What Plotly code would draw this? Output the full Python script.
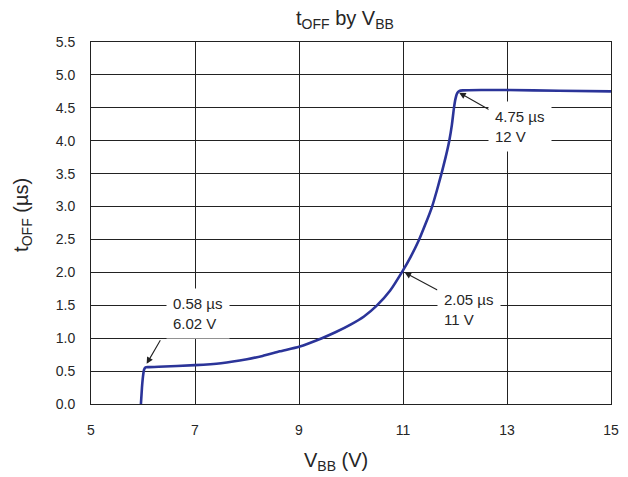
import plotly.graph_objects as go

# Data
vbb = [5.96, 5.98, 6.00, 6.02, 6.05, 6.10, 6.30, 7.0, 7.5, 8.0, 8.3, 8.63, 9.0, 9.44, 9.7,
       10.0, 10.25, 10.49, 10.75, 11.0, 11.15, 11.3, 11.43, 11.56, 11.65, 11.74,
       11.82, 11.89, 11.94, 11.98, 12.01, 12.04, 12.08, 12.15,
       12.5, 13.0, 14.0, 15.0]
toff = [0.0, 0.25, 0.42, 0.52, 0.555, 0.56, 0.565, 0.59, 0.62, 0.68, 0.73, 0.80, 0.87, 1.0, 1.09,
        1.21, 1.33, 1.49, 1.72, 2.03, 2.24, 2.48, 2.73, 3.0, 3.24, 3.5,
        3.75, 4.0, 4.24, 4.5, 4.64, 4.72, 4.755, 4.765,
        4.77, 4.77, 4.76, 4.75]

x_ticks = [5, 7, 9, 11, 13, 15]
y_ticks = [0.0, 0.5, 1.0, 1.5, 2.0, 2.5, 3.0, 3.5, 4.0, 4.5, 5.0, 5.5]
y_tick_labels = [f"{v:.1f}" for v in y_ticks]

# callouts: arrow head (point) and tail positions, label centres and texts
callout_px = [6.07, 11.03, 12.08]
callout_py = [0.61, 2.0, 4.73]
callout_tx = [6.35, 11.69, 12.73]
callout_ty = [0.99, 1.72, 4.44]
label_x = [7.06, 12.27, 13.25]
label_y = [1.37, 1.43, 4.22]
label_text = ["0.58 µs<br>6.02 V", "2.05 µs<br>11 V", "4.75 µs<br>12 V"]

FONT = "Liberation Sans, Arial, sans-serif"
TXT = "#262626"

fig = go.Figure()
fig.add_trace(go.Scatter(x=vbb, y=toff, mode="lines",
                         line=dict(color="#2B3499", width=2.6, shape="spline", smoothing=0.5),
                         showlegend=False, hoverinfo="skip"))

for px, py, tx, ty in zip(callout_px, callout_py, callout_tx, callout_ty):
    fig.add_annotation(x=px, y=py, ax=tx, ay=ty, axref="x", ayref="y", xref="x", yref="y",
                       text="", showarrow=True, arrowhead=2, arrowsize=1.2, arrowwidth=1.1,
                       arrowcolor="#222222")
for lx, ly, t in zip(label_x, label_y, label_text):
    fig.add_annotation(x=lx, y=ly, xref="x", yref="y", text=t, showarrow=False,
                       align="left", bgcolor="white", borderpad=6,
                       font=dict(family=FONT, size=15, color=TXT))

# axis titles
fig.add_annotation(x=0.471, y=-0.160, xref="paper", yref="paper", showarrow=False,
                   text="V<sub>BB</sub> (V)", xanchor="center", yanchor="middle",
                   font=dict(family=FONT, size=20, color=TXT))
fig.add_annotation(x=-0.133, y=0.522, xref="paper", yref="paper", showarrow=False,
                   text="t<sub>OFF</sub> (µs)", textangle=-90, xanchor="center", yanchor="middle",
                   font=dict(family=FONT, size=20, color=TXT))

# the page body adds an 8 px offset, so the figure is sized to fit the window
fig.update_layout(
    width=620, height=469,
    margin=dict(l=83, r=17, t=34, b=73, autoexpand=False),
    paper_bgcolor="white", plot_bgcolor="white",
    font=dict(family=FONT, color=TXT),
    title=dict(text="t<sub>OFF</sub> by V<sub>BB</sub>", x=0.5435, xanchor="center",
               y=0.979, yanchor="middle", font=dict(family=FONT, size=20, color=TXT)),
)
fig.update_xaxes(range=[5, 15], tickvals=x_ticks, ticktext=[str(v) for v in x_ticks],
                 showgrid=True, gridcolor="#222222", gridwidth=1,
                 showline=True, linecolor="#222222", linewidth=1, mirror=True,
                 ticks="outside", ticklen=13, tickcolor="rgba(0,0,0,0)",
                 tickfont=dict(family=FONT, size=14, color=TXT),
                 zeroline=False, automargin=False)
fig.update_yaxes(range=[0, 5.5], tickvals=y_ticks, ticktext=y_tick_labels,
                 showgrid=True, gridcolor="#222222", gridwidth=1,
                 showline=True, linecolor="#222222", linewidth=1, mirror=True,
                 ticks="outside", ticklen=12, tickcolor="rgba(0,0,0,0)",
                 tickfont=dict(family=FONT, size=14, color=TXT),
                 zeroline=False, automargin=False)

fig.write_html("out.html")
